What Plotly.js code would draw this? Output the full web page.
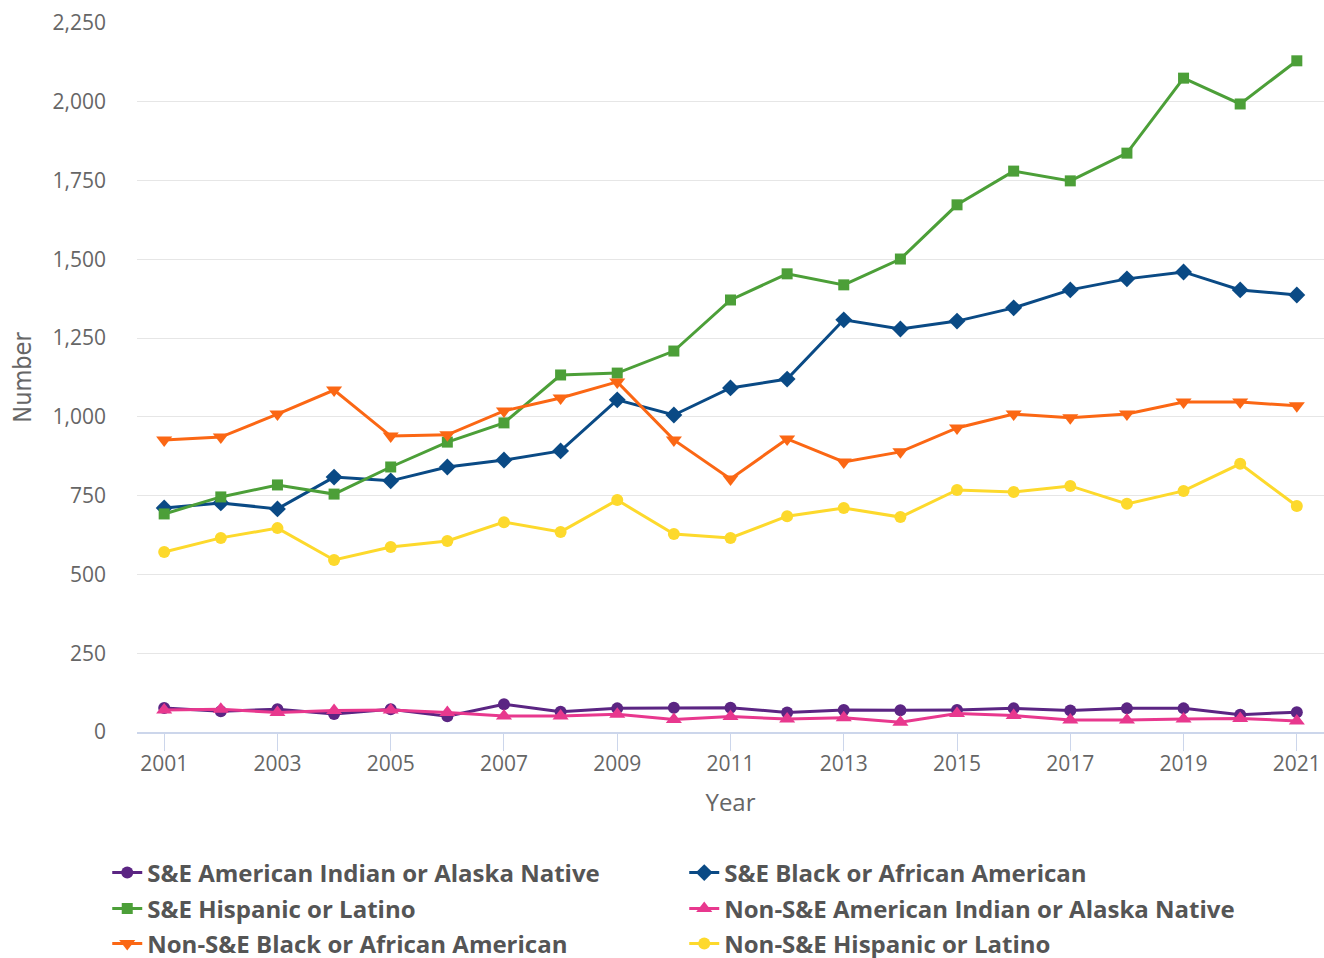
<!DOCTYPE html>
<html>
<head>
<meta charset="utf-8">
<script src="https://cdn.plot.ly/plotly-3.0.1.min.js"></script>
<style>html,body{margin:0;padding:0;background:#fff;}#chart{width:1324px;height:958px;}</style>
</head>
<body>
<div id="chart"></div>
<script>
const years = [2001,2002,2003,2004,2005,2006,2007,2008,2009,2010,2011,2012,2013,2014,2015,2016,2017,2018,2019,2020,2021];
const seAIAN = [76,66,72,57,72,50,88,64,75,77,77,62,70,69,70,75,68,75,75,55,63];
const seBlack = [711,727,708,809,797,841,863,892,1054,1006,1092,1120,1308,1279,1304,1346,1403,1438,1460,1403,1387];
const seHispanic = [692,746,784,755,841,920,981,1133,1139,1209,1371,1454,1419,1501,1673,1780,1749,1837,2075,1993,2130];
const nonseAIAN = [70,72,62,68,70,62,51,51,56,40,49,41,45,31,59,52,38,38,41,43,35];
const nonseBlack = [927,936,1009,1085,939,943,1019,1060,1111,927,803,930,857,889,965,1009,997,1009,1047,1047,1035];
const nonseHispanic = [571,616,647,546,587,606,666,635,736,628,616,685,711,682,768,762,781,724,765,851,717];
const seriesNames = ["S&E American Indian or Alaska Native","S&E Black or African American","S&E Hispanic or Latino","Non-S&E American Indian or Alaska Native","Non-S&E Black or African American","Non-S&E Hispanic or Latino"];
const seriesData = [seAIAN, seBlack, seHispanic, nonseAIAN, nonseBlack, nonseHispanic];
const xTickVals = [2001,2003,2005,2007,2009,2011,2013,2015,2017,2019,2021];
const yTickVals = [0,250,500,750,1000,1250,1500,1750,2000,2250];
const yTickText = ['0','250','500','750','1,000','1,250','1,500','1,750','2,000','2,250'];

const colors = ["#5b2583","#0a4a85","#4c9f38","#e8388e","#fb6714","#fdd92c"];
const symbols = ["circle","diamond","square","triangle-up","triangle-down","circle"];
const sizes = [12,13,11,14,14,12];
const legendIds = ['legend','legend','legend2','legend2','legend3','legend3'];

const traces = seriesData.map((d,i)=>({
  x: years, y: d, name: seriesNames[i], type:'scatter', mode:'lines+markers',
  line:{color:colors[i], width:3},
  marker:{color:colors[i], symbol:symbols[i], size:sizes[i]},
  legend: legendIds[i],
  hoverinfo:'none'
}));

function leg(yc){
  return {
    orientation:'h', xref:'container', yref:'container', x:0.081, y:yc, xanchor:'left', yanchor:'middle',
    entrywidth:532, entrywidthmode:'pixels', borderwidth:0, bgcolor:'rgba(0,0,0,0)',
    font:{size:24, color:'#555555', family:'"Open Sans", sans-serif', weight:'bold'},
    itemwidth:30
  };
}

const layout = {
  width:1324, height:958,
  margin:{l:137, r:0, t:23, b:226},
  paper_bgcolor:'#fff', plot_bgcolor:'#fff',
  font:{family:'"Open Sans", sans-serif', color:'#666'},
  showlegend:true,
  xaxis:{
    range:[2000.52, 2021.48], tickmode:'array', tickvals:xTickVals,
    ticks:'outside', ticklen:17, tickcolor:'#ccd6eb', tickwidth:1,
    showline:true, linecolor:'#ccd6eb', linewidth:2,
    showgrid:false, zeroline:false,
    tickfont:{size:21, color:'#666'}, ticklabelstandoff:-5,
    title:{text:'Year', font:{size:24, color:'#666'}, standoff:18}
  },
  yaxis:{
    range:[0,2250], tickmode:'array', tickvals:yTickVals, ticktext:yTickText,
    showgrid:true, gridcolor:'#e6e6e6', gridwidth:1, zeroline:false,
    ticks:'', tickfont:{size:21, color:'#666'}, ticklabelstandoff:30,
    title:{text:'Number', font:{size:25, color:'#666', family:'"DejaVu Sans Condensed", "Open Sans", sans-serif'}, standoff:13}
  },
  legend: leg(1-873/958),
  legend2: leg(1-909/958),
  legend3: leg(1-944/958)
};
Plotly.newPlot('chart', traces, layout, {displayModeBar:false, staticPlot:true});
</script>
</body>
</html>
